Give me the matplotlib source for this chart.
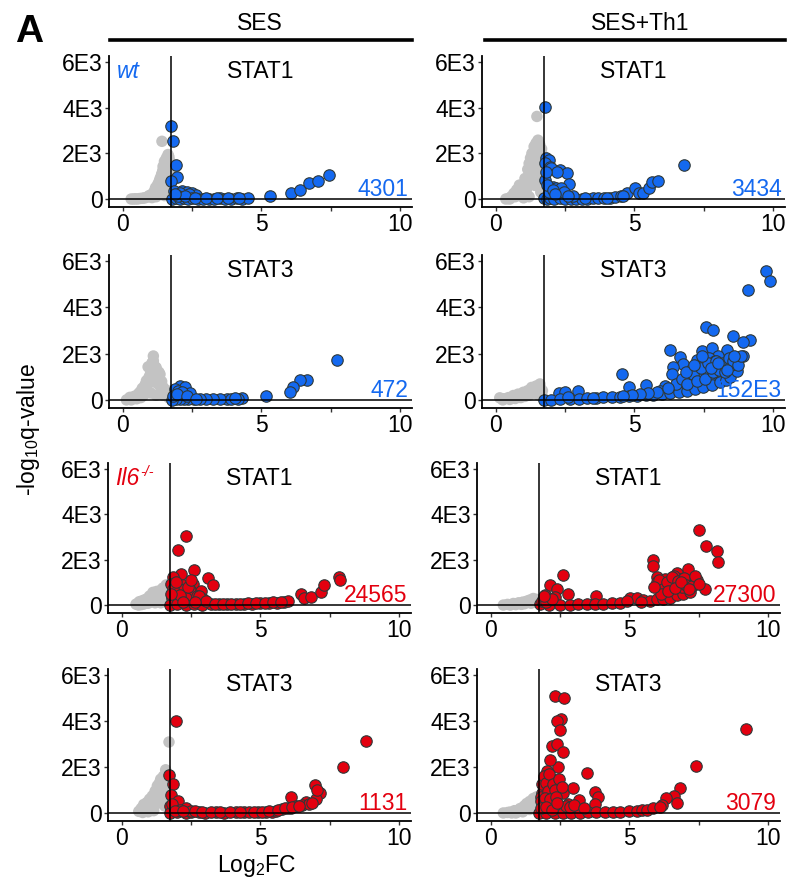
import matplotlib
matplotlib.use("Agg")
import matplotlib.pyplot as plt
from matplotlib.lines import Line2D

plt.rcParams["font.family"] = ["Liberation Sans", "DejaVu Sans"]
plt.rcParams["mathtext.fontset"] = "custom"
plt.rcParams["mathtext.rm"] = "Liberation Sans"
plt.rcParams["mathtext.it"] = "Liberation Sans:italic"

BLUE = "#1469F0"
RED = "#E3000F"
GRAY = "#C3C3C3"
THRESHOLD = 1.75

# ---- wt, SES, STAT1
g1x = [0.30, 0.45, 0.60, 0.75, 0.90, 1.00, 1.10, 1.20, 1.30, 1.40, 1.50, 1.60, 1.70, 1.05, 1.15, 1.25,
       1.33, 1.40, 1.45, 1.50, 1.57, 1.63, 1.68, 1.38, 1.48, 1.55, 1.62, 1.41, 1.20, 1.50, 1.65, 1.70,
       0.38, 0.52, 0.68, 0.82, 0.95, 1.08, 1.18, 1.28, 1.36, 1.44, 1.52, 1.58, 1.66, 1.60, 1.54, 1.46]
g1y = [0, 10, 20, 40, 100, 150, 200, 250, 300, 350, 400, 450, 300, 60, 380, 600,
       850, 1100, 1430, 1650, 1800, 1950, 1700, 700, 1000, 1200, 1400, 2530, 100, 150, 800, 1100,
       0, 0, 30, 60, 150, 250, 500, 700, 950, 1250, 1550, 1650, 1850, 1200, 900, 550]
b1x = [1.75, 1.80, 1.93, 1.95, 1.75, 2.14, 2.30, 2.50, 2.65, 1.85, 2.05, 2.40, 1.78, 1.90, 2.05, 2.20,
       2.35, 2.50, 2.70, 2.90, 3.10, 3.30, 3.50, 3.70, 3.90, 4.10, 4.30, 4.50, 5.30, 6.08, 6.39, 6.72,
       7.05, 7.45, 1.98, 2.25, 2.60, 3.00, 3.40, 3.80, 4.20, 1.88]
b1y = [3220, 2530, 1480, 950, 780, 370, 300, 250, 190, 350, 280, 200, 20, 30, 20, 40,
       10, 30, 20, 10, 20, 10, 30, 10, 20, 30, 20, 50, 120, 260, 410, 700,
       780, 1070, 150, 120, 60, 40, 40, 30, 40, 200]

# ---- wt, SES+Th1, STAT1
g2x = [0.36, 0.45, 0.55, 0.65, 0.75, 0.85, 0.95, 1.05, 1.15, 1.20, 1.25, 1.30, 1.38, 1.45, 1.52, 1.58,
       1.65, 1.70, 0.70, 0.90, 1.10, 1.30, 1.50, 1.60, 1.40, 1.48, 1.20, 1.00, 1.62, 1.68,
       0.50, 0.80, 1.12, 1.35, 1.42, 1.55, 1.66, 1.58, 1.46, 1.25]
g2y = [0, 20, 100, 250, 400, 610, 500, 900, 1300, 1560, 1800, 2000, 2300, 2450, 2580, 2400,
       2200, 1900, 100, 200, 400, 800, 1200, 800, 600, 3620, 100, 50, 300, 1000,
       0, 300, 800, 1400, 1800, 2000, 1500, 1600, 2100, 1200]
b2x = [1.76, 1.82, 1.90, 1.79, 1.94, 2.30, 2.55, 1.76, 2.06, 2.64, 2.18, 2.36, 2.00, 2.20, 1.75, 1.85,
       1.95, 2.10, 2.30, 2.50, 2.70, 2.90, 3.10, 3.30, 3.50, 3.70, 3.90, 4.10, 4.30, 4.50, 4.73, 5.03,
       5.15, 5.30, 5.52, 5.64, 5.85, 6.79, 2.45, 1.90, 2.80, 1.80, 1.85, 2.05, 2.15, 2.60, 3.20, 4.00, 4.60]
b2y = [4040, 1780, 1700, 1560, 1410, 1270, 1150, 830, 540, 680, 470, 470, 1350, 1200, 50, 20,
       30, 20, 30, 10, 20, 10, 20, 20, 30, 40, 50, 60, 80, 120, 250, 470,
       280, 250, 470, 760, 800, 1490, 300, 300, 150, 1200, 600, 400, 200, 120, 60, 60, 150]

# ---- wt, SES, STAT3
g3x = [0.13, 0.25, 0.40, 0.55, 0.61, 0.70, 0.80, 0.85, 0.91, 1.00, 1.05, 1.10, 1.10, 1.20, 1.30, 1.34,
       1.40, 1.46, 1.55, 1.65, 0.95, 1.15, 1.25, 0.75, 1.00, 1.20, 1.45, 0.50, 1.60,
       0.30, 0.65, 0.90, 1.05, 1.15, 1.25, 1.38, 1.50, 0.85, 1.00]
g3y = [0, 110, 150, 250, 330, 500, 650, 830, 1430, 1300, 1600, 1900, 1690, 1400, 1200, 1110,
       800, 540, 250, 100, 1000, 1100, 700, 200, 300, 200, 200, 50, 400,
       0, 100, 400, 800, 1450, 1000, 500, 300, 600, 1150]
b3x = [7.74, 6.65, 6.39, 6.15, 6.03, 5.15, 4.28, 4.15, 3.74, 3.50, 3.26, 3.00, 2.78, 2.55, 2.36, 2.20,
       2.06, 1.90, 1.76, 2.06, 1.88, 2.24, 2.42, 2.00, 2.15, 1.80, 1.95, 2.30, 2.65, 3.90, 4.05]
b3y = [1730, 870, 870, 540, 360, 190, 90, 60, 60, 40, 40, 30, 30, 20, 30, 20,
       30, 20, 10, 590, 470, 540, 290, 400, 350, 150, 250, 150, 60, 40, 70]

# ---- wt, SES+Th1, STAT3
g4x = [0.14, 0.30, 0.45, 0.63, 0.80, 0.99, 1.15, 1.29, 1.45, 1.59, 1.68, 0.50, 0.90, 1.20, 1.40, 1.55,
       1.70, 0.25, 0.70, 1.05, 1.35, 1.62]
g4y = [90, 50, 100, 190, 250, 330, 400, 540, 600, 690, 400, 20, 100, 200, 300, 200,
       100, 0, 60, 150, 420, 500]
b4x = [9.75, 9.89, 9.11, 7.57, 7.85, 8.57, 9.17, 8.93, 6.28, 7.42, 7.79, 8.33, 8.03, 8.93, 8.63, 6.64,
       7.70, 7.24, 8.14, 6.76, 6.40, 8.66, 7.06, 7.55, 6.34, 8.33, 8.03, 6.94, 7.36, 7.73, 6.10, 6.76,
       7.48, 4.56, 5.40, 4.81, 2.97, 2.29, 2.49, 5.92, 6.52, 7.12,
       1.73, 2.00, 2.30, 2.67, 3.00, 3.27, 3.60, 3.87, 4.20, 4.48, 4.80, 5.08, 5.40, 5.68, 6.00, 6.28,
       6.60, 6.88, 7.20, 7.48, 7.80, 8.09, 8.30, 8.45, 8.69, 7.00, 7.60, 8.20, 8.50, 7.30, 6.50, 7.90,
       6.70, 6.90, 7.10, 7.25, 7.40, 7.55, 7.65, 7.85, 7.95, 8.05, 8.25, 8.40, 8.55, 8.75, 8.85,
       6.85, 7.15, 7.45, 7.75, 8.00, 8.35, 8.60, 6.20, 5.80, 5.50, 5.20, 4.90, 4.60, 3.50, 2.60]
b4y = [5570, 5160, 4760, 3140, 3040, 2760, 2590, 2510, 2140, 2110, 2260, 2140, 1900, 1900, 1860, 1860,
       1830, 1710, 1540, 1540, 1430, 1610, 1330, 1110, 1110, 1400, 970, 940, 830, 760, 610, 690,
       610, 1110, 640, 540, 400, 300, 330, 400, 470, 540,
       0, 10, 20, 30, 40, 70, 90, 110, 130, 140, 160, 170, 200, 230, 260, 300,
       350, 400, 470, 540, 650, 760, 860, 970, 1260, 1000, 1300, 1600, 1500, 1200, 700, 1700,
       900, 700, 1100, 800, 1400, 900, 1600, 1200, 1700, 1300, 1200, 1800, 1700, 1500, 1900,
       1200, 1500, 1900, 1400, 1600, 1300, 1900, 500, 350, 300, 250, 200, 180, 90, 120]

# ---- Il6-/-, SES, STAT1
g5x = [0.51, 0.63, 0.75, 0.87, 1.00, 1.12, 1.25, 1.36, 1.48, 1.60, 1.68, 0.80, 1.05, 1.30, 1.50, 1.65,
       0.60, 1.20, 1.40, 0.70, 0.95, 1.15, 1.55, 1.62]
g5y = [40, 150, 200, 260, 400, 560, 600, 630, 750, 890, 700, 50, 150, 250, 300, 300,
       0, 100, 100, 20, 80, 400, 550, 150]
r5x = [2.33, 2.02, 2.15, 2.60, 1.84, 3.12, 3.27, 2.20, 2.57, 1.78, 1.90, 2.45, 2.87, 2.93, 2.30, 2.70,
       2.05, 1.80, 1.75, 2.00, 2.30, 2.60, 2.90, 3.20, 3.50, 3.80, 4.10, 4.40, 4.70, 5.00, 5.30, 5.60,
       5.85, 6.00, 6.45, 6.57, 6.81, 7.18, 7.30, 7.84, 7.88,
       1.85, 1.95, 2.10, 2.40, 2.50, 2.80, 3.05, 1.78, 2.20, 2.65, 3.35, 3.65, 3.95, 4.25, 4.55, 4.85,
       5.15, 5.45, 5.75]
r5y = [3070, 2420, 1390, 1550, 1260, 1190, 890, 890, 920, 920, 560, 660, 600, 260, 300, 400,
       700, 300, 20, 30, 20, 30, 20, 30, 40, 30, 40, 50, 60, 70, 90, 110,
       150, 180, 480, 290, 340, 560, 890, 1260, 1100,
       700, 1000, 450, 800, 1100, 400, 200, 500, 150, 120, 40, 50, 50, 60, 70, 80,
       100, 120, 140]

# ---- Il6-/-, SES+Th1, STAT1
g6x = [0.45, 0.60, 0.81, 1.00, 1.15, 1.29, 1.40, 1.53, 1.65, 0.70, 1.10, 1.45, 0.90, 1.22, 1.60]
g6y = [0, 30, 70, 100, 130, 170, 220, 290, 250, 0, 30, 80, 20, 60, 120]
r6x = [7.52, 7.76, 8.15, 8.21, 5.84, 5.84, 7.10, 6.73, 5.98, 6.82, 6.28, 6.46, 7.18, 7.42, 7.72, 5.98,
       6.46, 7.06, 2.61, 2.13, 2.39, 2.79, 1.95, 2.31, 3.79,
       1.77, 2.10, 2.50, 2.85, 3.15, 3.45, 3.75, 4.06, 4.36, 4.66, 5.02, 5.26, 5.50, 5.74, 6.00, 6.22,
       6.46, 6.70, 6.94, 7.18, 6.10, 6.60, 6.90, 7.30,
       6.05, 6.20, 6.35, 6.55, 6.75, 6.95, 7.05, 7.25, 7.35, 7.50, 6.15, 6.40, 6.65, 6.85, 7.15, 5.90,
       1.85, 2.00, 2.20, 1.90, 4.90, 5.40]
r6y = [3330, 2610, 2400, 1890, 2000, 1710, 1570, 1430, 1240, 1140, 1140, 930, 1000, 1110, 710, 1000,
       640, 640, 1330, 900, 710, 470, 430, 360, 400,
       60, 20, 10, 20, 30, 40, 50, 60, 70, 90, 330, 300, 210, 200, 250, 270,
       330, 430, 500, 570, 900, 1300, 800, 900,
       1100, 700, 1000, 1250, 1050, 1200, 900, 850, 1300, 950, 500, 600, 750, 1000, 700, 800,
       200, 150, 250, 400, 200, 150]

# ---- Il6-/-, SES, STAT3
g7x = [0.61, 0.70, 0.79, 0.90, 1.00, 1.10, 1.20, 1.28, 1.35, 1.40, 1.50, 1.58, 1.65, 1.70, 1.70, 0.85,
       1.05, 1.25, 1.45, 1.60, 1.15, 1.55, 0.75, 0.95, 1.32, 1.48, 1.62, 1.68]
g7y = [70, 200, 370, 450, 600, 740, 950, 1180, 1300, 1470, 1600, 1880, 1700, 3090, 1200, 100,
       200, 400, 700, 900, 100, 300, 20, 50, 850, 1100, 1350, 600]
r7x = [1.96, 8.80, 7.99, 1.70, 1.84, 6.97, 7.15, 6.99, 6.09, 6.63, 1.76, 2.02, 1.72, 2.30, 6.09,
       1.75, 2.00, 2.30, 2.50, 2.78, 3.00, 3.38, 3.70, 4.10, 4.40, 4.58, 4.90, 5.19, 5.40, 5.55, 5.79,
       6.00, 6.27, 6.51, 6.75, 1.80, 2.10, 2.50, 7.05,
       1.90, 2.20, 2.65, 2.90, 3.20, 3.55, 3.90, 4.25, 4.75, 5.05, 5.30, 5.65, 5.90, 6.15, 6.40, 6.85]
r7y = [4010, 3130, 2010, 1650, 1250, 1210, 880, 620, 690, 490, 780, 510, 290, 220, 220,
       0, 30, 20, 60, 30, 20, 30, 20, 30, 30, 40, 40, 40, 60, 100, 190,
       200, 290, 340, 400, 400, 150, 100, 1000,
       100, 80, 70, 60, 40, 40, 30, 40, 50, 60, 90, 140, 220, 250, 300, 450]

# ---- Il6-/-, SES+Th1, STAT3
g8x = [0.45, 0.60, 0.69, 0.85, 1.05, 1.20, 1.29, 1.40, 1.53, 1.65, 0.90, 1.15, 1.40, 1.60, 0.75, 1.00,
       1.35, 1.50]
g8y = [0, 20, 40, 100, 190, 300, 410, 500, 630, 700, 0, 50, 150, 200, 0, 60, 300, 400]
r8x = [2.31, 2.64, 2.52, 2.39, 2.49, 2.19, 2.37, 2.59, 2.43, 2.15, 2.01, 1.91, 2.19, 2.07, 3.48, 2.95,
       2.61, 3.76, 3.85, 3.19, 2.79, 3.76, 1.83, 1.89, 2.37, 9.21, 7.40, 6.82, 6.60, 6.32, 6.70, 6.16,
       1.75, 2.00, 2.30, 2.60, 2.90, 3.20, 3.50, 3.80, 4.10, 4.40, 4.66, 5.00, 5.26, 5.45, 5.62, 5.86,
       6.10, 1.80, 2.10, 1.95,
       1.85, 1.90, 2.00, 2.05, 2.10, 2.25, 2.30, 2.45, 2.55, 1.80, 1.95, 2.15, 2.35, 2.70, 2.85, 3.00,
       3.35, 1.82, 2.00, 2.20, 2.40]
r8y = [5100, 4990, 4100, 4000, 3600, 2900, 3020, 2640, 2020, 2310, 1830, 1510, 1460, 1140, 1730, 1070,
       890, 920, 700, 560, 410, 380, 850, 480, 340, 3670, 2060, 1100, 730, 670, 440, 340,
       0, 10, 20, 10, 20, 20, 30, 30, 40, 50, 60, 70, 90, 110, 150, 220,
       260, 700, 900, 300,
       1250, 1600, 1300, 950, 1700, 1250, 1000, 1500, 1150, 500, 650, 600, 700, 300, 250, 350,
       200, 200, 250, 150, 450]

panel_titles = ["STAT1", "STAT1", "STAT3", "STAT3", "STAT1", "STAT1", "STAT3", "STAT3"]
panel_counts = ["4301", "3434", "472", "152E3", "24565", "27300", "1131", "3079"]
column_titles = ["SES", "SES+Th1"]
y_ticks = [0, 2000, 4000, 6000]
y_tick_labels = ["0", "2E3", "4E3", "6E3"]
x_ticks = [0, 2.5, 5, 7.5, 10]
x_tick_labels = ["0", "", "5", "", "10"]

W, H = 800, 886
FS = 16.5
fig = plt.figure(figsize=(W / 100, H / 100), dpi=100)

rows_px = [(56, 207), (255, 408), (463, 613), (669, 821)]
left_px = [[109, 482], [109, 482], [108, 477], [108, 477]]
axis_w = 303

data = [(g1x, g1y, b1x, b1y), (g2x, g2y, b2x, b2y), (g3x, g3y, b3x, b3y), (g4x, g4y, b4x, b4y),
        (g5x, g5y, r5x, r5y), (g6x, g6y, r6x, r6y), (g7x, g7y, r7x, r7y), (g8x, g8y, r8x, r8y)]

il6_ax = None
for i, (gx, gy, hx, hy) in enumerate(data):
    row, col = divmod(i, 2)
    top, bot = rows_px[row]
    lx = left_px[row][col]
    ax = fig.add_axes([lx / W, 1 - bot / H, axis_w / W, (bot - top) / H])
    color = BLUE if row < 2 else RED
    ax.scatter(gx, gy, s=68, c=GRAY, edgecolors="none", zorder=2)
    ax.scatter(hx, hy, s=68, c=color, edgecolors="#2E3838", linewidths=0.8, zorder=3)
    ax.axvline(THRESHOLD, color="black", lw=1.1, zorder=4)
    ax.axhline(0, color="black", lw=1.1, zorder=4)
    ax.set_xlim(-0.5, 10.43)
    ax.set_ylim(-350, 6270)
    ax.set_xticks(x_ticks)
    ax.set_xticklabels(x_tick_labels)
    ax.set_yticks(y_ticks)
    ax.set_yticklabels(y_tick_labels)
    ax.tick_params(labelsize=FS, length=3, width=1, pad=1.5, color="#333333")
    for side in ("top", "right"):
        ax.spines[side].set_visible(False)
    for side in ("left", "bottom"):
        ax.spines[side].set_linewidth(1.3)
    ax.text(0.5, 0.975, panel_titles[i], transform=ax.transAxes, ha="center", va="top", fontsize=FS)
    ax.text(10.3, 130, panel_counts[i], color=color, ha="right", va="baseline", fontsize=FS)
    if col == 0 and row == 0:
        ax.text(0.025, 0.975, "wt", transform=ax.transAxes, ha="left", va="top",
                fontsize=FS, style="italic", color=BLUE)
    if col == 0 and row == 2:
        il6_ax = ax

# Il6-/- label: italic gene name plus small superscript
t = il6_ax.text(0.025, 0.975, "Il6", transform=il6_ax.transAxes, ha="left", va="top",
                fontsize=FS, style="italic", color=RED)
fig.canvas.draw()
bb = t.get_window_extent().transformed(il6_ax.transAxes.inverted())
il6_ax.text(bb.x1 + 0.003, bb.y1 + 0.01, "-/-", transform=il6_ax.transAxes, ha="left", va="top",
            fontsize=FS * 0.62, style="italic", color=RED)

# column headers with bars
fig.text(260 / W, 1 - 23 / H, column_titles[0], ha="center", va="center", fontsize=FS)
fig.text(640 / W, 1 - 23 / H, column_titles[1], ha="center", va="center", fontsize=FS)
fig.add_artist(Line2D([110 / W, 412 / W], [1 - 40 / H] * 2, color="black", lw=2.6))
fig.add_artist(Line2D([485 / W, 785 / W], [1 - 40 / H] * 2, color="black", lw=2.6))

fig.text(15 / W, 1 - 32 / H, "A", ha="left", va="center", fontsize=28, weight="bold")
fig.text(29 / W, 1 - 430 / H, r"-log$_{10}$q-value", rotation=90, ha="center", va="center", fontsize=FS)
fig.text(257 / W, 1 - 866 / H, r"Log$_2$FC", ha="center", va="center", fontsize=FS)

fig.savefig("out.png", dpi=100)
